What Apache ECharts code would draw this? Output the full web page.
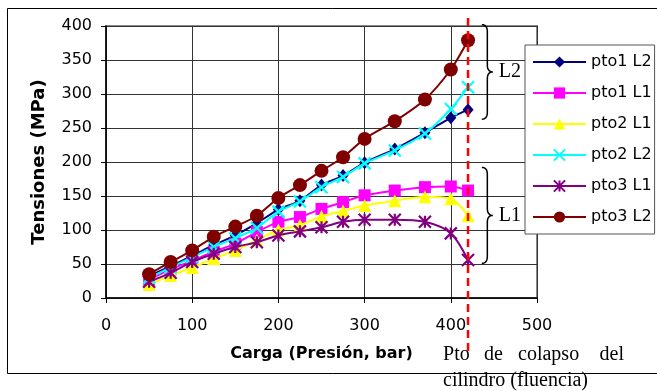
<!DOCTYPE html>
<html>
<head>
<meta charset="utf-8">
<script src="https://cdn.jsdelivr.net/npm/echarts@6/dist/echarts.min.js"></script>
<style>html,body{margin:0;padding:0;background:#fff;}#c{width:657px;height:391px;}</style>
</head>
<body>
<div id="c"></div>
<script>
const cargas = [50, 75, 100, 125, 150, 175, 200, 225, 250, 275, 300, 335, 370, 400, 420];
const pto1L2 = [32, 47, 62, 78, 92, 110, 130, 143, 166, 180, 199, 219, 243, 265, 277];
const pto1L1 = [27, 42, 55, 68, 80, 97, 112, 119, 131, 141, 151, 158, 163, 164, 158];
const pto2L1 = [20, 33, 45, 58, 70, 85, 100, 107, 120, 128, 136, 143, 149, 146, 121];
const pto2L2 = [30, 45, 60, 75, 88, 103, 127, 142, 163, 178, 198, 217, 242, 278, 310];
const pto3L1 = [24, 37, 53, 65, 75, 82, 92, 98, 104, 112, 115, 115, 112, 95, 56];
const pto3L2 = [35, 53, 70, 90, 105, 121, 147, 166, 187, 207, 234, 260, 292, 336, 379];
const seriesNames = ['pto1 L2', 'pto1 L1', 'pto2 L1', 'pto2 L2', 'pto3 L1', 'pto3 L2'];
const xTicks = [0, 100, 200, 300, 400, 500];
const yTicks = [0, 50, 100, 150, 200, 250, 300, 350, 400];
const colapso = 420;
const bracketL2 = [263, 402];
const bracketL1 = [51, 192];

const pair = arr => cargas.map((x, i) => [x, arr[i]]);
const X_PATH = 'path://M0,0L10,10M10,0L0,10';
const STAR_PATH = 'path://M0,0L10,10M10,0L0,10M5,0L5,10';

const defs = [
  {data: pto1L2, color: '#000080', symbol: 'diamond', size: [11, 13]},
  {data: pto1L1, color: '#FF00FF', symbol: 'rect', size: 12},
  {data: pto2L1, color: '#FFFF00', symbol: 'triangle', size: 13},
  {data: pto2L2, color: '#00FFFF', symbol: X_PATH, size: 12, stroke: true},
  {data: pto3L1, color: '#800080', symbol: STAR_PATH, size: 12, stroke: true},
  {data: pto3L2, color: '#800000', symbol: 'circle', size: 14}
];

const chart = echarts.init(document.getElementById('c'), null, {renderer: 'canvas'});
const option = {
  animation: false,
  backgroundColor: '#fff',
  grid: {left: 106, right: 120, top: 26, bottom: 93, show: true, borderColor: '#888', borderWidth: 2, backgroundColor: 'transparent'},
  legend: {
    orient: 'vertical', left: 525, top: 45,
    itemWidth: 53, itemHeight: 14, itemGap: 15,
    padding: [9, 3, 9, 7],
    backgroundColor: '#fff', borderColor: '#555', borderWidth: 1,
    textStyle: {fontFamily: 'DejaVu Sans', fontSize: 16, color: '#000'},
    data: seriesNames
  },
  xAxis: {
    type: 'value', min: 0, max: 500, interval: 100,
    name: 'Carga (Presión, bar)', nameLocation: 'middle', nameGap: 48,
    nameTextStyle: {fontFamily: 'DejaVu Sans', fontWeight: 'bold', fontSize: 16, color: '#000'},
    axisLine: {show: true, onZero: false, lineStyle: {color: '#000', width: 1.5}},
    axisTick: {show: true, length: 5, lineStyle: {color: '#000'}},
    axisLabel: {fontFamily: 'DejaVu Sans', fontSize: 16, color: '#000', margin: 20},
    splitLine: {show: true, lineStyle: {color: '#333', width: 1}}
  },
  yAxis: {
    type: 'value', min: 0, max: 400, interval: 50,
    name: 'Tensiones (MPa)', nameLocation: 'middle', nameGap: 58,
    nameTextStyle: {fontFamily: 'DejaVu Sans', fontWeight: 'bold', fontSize: 18, color: '#000'},
    axisLine: {show: true, onZero: false, lineStyle: {color: '#000', width: 1.5}},
    axisTick: {show: true, length: 5, lineStyle: {color: '#000'}},
    axisLabel: {fontFamily: 'DejaVu Sans', fontSize: 16, color: '#000', margin: 14},
    splitLine: {show: true, lineStyle: {color: '#333', width: 1}}
  },
  series: defs.map((d, i) => ({
    name: seriesNames[i],
    type: 'line',
    data: pair(d.data),
    smooth: 0.3,
    symbol: d.symbol,
    symbolSize: d.size,
    showAllSymbol: true,
    lineStyle: {color: d.color, width: 2},
    itemStyle: d.stroke ? {color: d.color, borderColor: d.color, borderWidth: 2.2} : {color: d.color, borderWidth: 0},
    emphasis: {disabled: true},
    z: 2 + i
  }))
};
chart.setOption(option);

function quad(p0, p1, p2, n, out) {
  for (let k = 0; k <= n; k++) {
    const t = k / n, u = 1 - t;
    out.push([u * u * p0[0] + 2 * u * t * p1[0] + t * t * p2[0], u * u * p0[1] + 2 * u * t * p1[1] + t * t * p2[1]]);
  }
}
function brace(x0, yTop, yBot, w) {
  const xm = x0 + w / 2, xt = x0 + w;
  const ym = (yTop + yBot) / 2;
  const r = 7;
  const pts = [];
  quad([x0, yTop], [xm, yTop], [xm, yTop + r], 8, pts);
  quad([xm, ym - r], [xm, ym], [xt, ym], 8, pts);
  quad([xt, ym], [xm, ym], [xm, ym + r], 8, pts);
  quad([xm, yBot - r], [xm, yBot], [x0, yBot], 8, pts);
  return pts;
}

const px = v => chart.convertToPixel({xAxisIndex: 0}, v);
const py = v => chart.convertToPixel({yAxisIndex: 0}, v);
const xr = px(colapso);
const y0 = py(0), yTop = py(400);
const bx = px(436);
const serif = 'Liberation Serif';
const font = '20px "' + serif + '"';
const graphics = [
  {type: 'rect', shape: {x: 7.5, y: 8.5, width: 700, height: 365}, style: {fill: 'none', stroke: '#000', lineWidth: 1}, z: 0, silent: true},
  {type: 'line', shape: {x1: xr, y1: yTop - 8, x2: xr, y2: y0 + 55}, style: {stroke: '#FF0000', lineWidth: 2.5, lineDash: [8, 5]}, z: 50, silent: true},
  {type: 'polyline', shape: {points: brace(bx, py(bracketL2[1]), py(bracketL2[0]), 11)}, style: {fill: null, stroke: '#000', lineWidth: 1.5}, z: 50, silent: true},
  {type: 'polyline', shape: {points: brace(bx, py(bracketL1[1]), py(bracketL1[0]), 11)}, style: {fill: null, stroke: '#000', lineWidth: 1.5}, z: 50, silent: true},
  {type: 'text', x: bx + 17, y: py((bracketL2[0] + bracketL2[1]) / 2), style: {text: 'L2', font: font, fill: '#000', verticalAlign: 'middle'}, z: 40, silent: true},
  {type: 'text', x: bx + 17, y: py((bracketL1[0] + bracketL1[1]) / 2), style: {text: 'L1', font: font, fill: '#000', verticalAlign: 'middle'}, z: 40, silent: true},
  {type: 'text', x: xr - 25, y: y0 + 57, style: {text: 'Pto', font: font, fill: '#000', verticalAlign: 'middle'}, z: 40, silent: true},
  {type: 'text', x: xr + 16, y: y0 + 57, style: {text: 'de', font: font, fill: '#000', verticalAlign: 'middle'}, z: 40, silent: true},
  {type: 'text', x: xr + 50, y: y0 + 57, style: {text: 'colapso', font: font, fill: '#000', verticalAlign: 'middle'}, z: 40, silent: true},
  {type: 'text', x: xr + 156, y: y0 + 57, style: {text: 'del', font: font, fill: '#000', verticalAlign: 'middle', align: 'right'}, z: 40, silent: true},
  {type: 'text', x: xr - 25, y: y0 + 83, style: {text: 'cilindro (fluencia)', font: font, fill: '#000', verticalAlign: 'middle'}, z: 40, silent: true}
];
chart.setOption({graphic: graphics});
</script>
</body>
</html>
